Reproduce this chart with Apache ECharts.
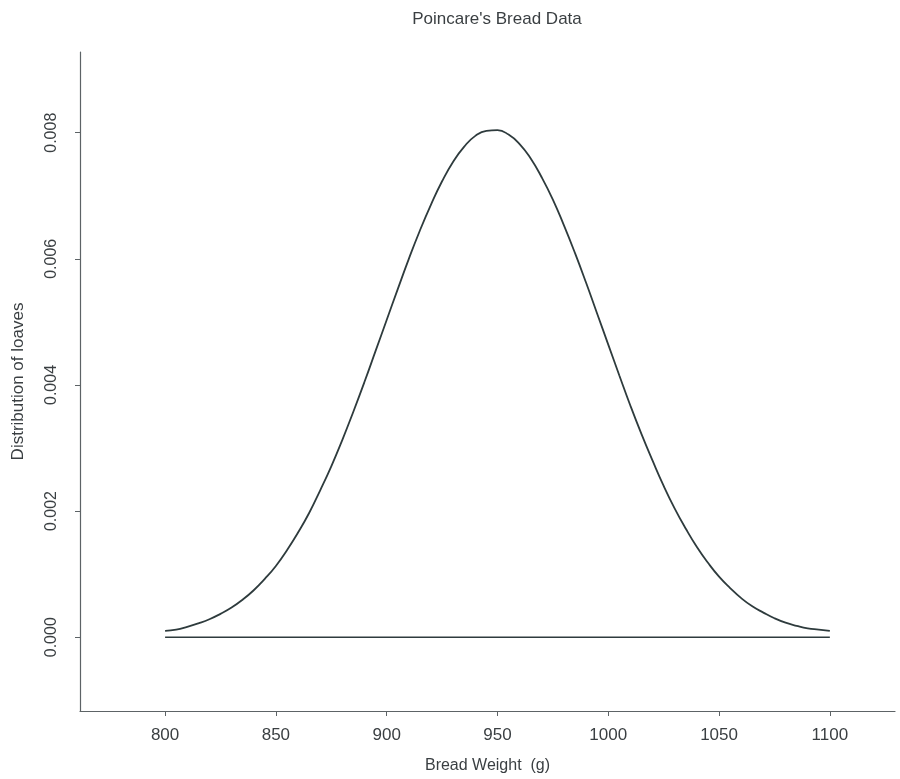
<!DOCTYPE html>
<html>
<head>
<meta charset="utf-8">
<script src="https://cdn.jsdelivr.net/npm/echarts@6/dist/echarts.min.js"></script>
<style>
  html, body { margin: 0; padding: 0; background: #fff; }
  #chart { width: 900px; height: 779px; }
</style>
</head>
<body>
<div id="chart"></div>
<script>
// weights (g) and the density, every 5 g
var weights = [800, 805, 810, 815, 820, 825, 830, 835, 840, 845,
  850, 855, 860, 865, 870, 875, 880, 885, 890, 895,
  900, 905, 910, 915, 920, 925, 930, 935, 940, 945,
  950, 955, 960, 965, 970, 975, 980, 985, 990, 995,
  1000, 1005, 1010, 1015, 1020, 1025, 1030, 1035, 1040, 1045,
  1050, 1055, 1060, 1065, 1070, 1075, 1080, 1085, 1090, 1095, 1100];
var density = [0.0001, 0.00012, 0.000165, 0.00022, 0.000285, 0.00037, 0.00047, 0.000595, 0.000745, 0.000925,
  0.00113, 0.00138, 0.00166, 0.00197, 0.00233, 0.00271, 0.00313, 0.00358, 0.00405, 0.00454,
  0.00503, 0.00552, 0.006, 0.00645, 0.00686, 0.00723, 0.00754, 0.00778, 0.00795, 0.00803,
  0.00804, 0.00797, 0.00782, 0.00759, 0.00729, 0.00694, 0.00653, 0.00609, 0.00562, 0.00513,
  0.00464, 0.00415, 0.00367, 0.00322, 0.0028, 0.0024, 0.00204, 0.00172, 0.00143, 0.00118,
  0.00096, 0.00078, 0.00062, 0.00049, 0.00039, 0.0003, 0.00023, 0.00018, 0.00014, 0.00012, 0.0001];
// baseline drawn under the curve
var baseX = [800, 1100];
var baseY = [0, 0];
var xTicks = [800, 850, 900, 950, 1000, 1050, 1100];
var yTicks = [0, 0.002, 0.004, 0.006, 0.008];

var myChart = echarts.init(document.getElementById("chart"));
var textColor = "#3a3f42";
var axisColor = "#5d6366";
var font = "Liberation Sans";

myChart.setOption({
  backgroundColor: "#ffffff",
  animation: false,
  title: {
    text: "Poincare's Bread Data",
    left: 492,
    textAlign: "center",
    top: 6,
    textStyle: {
      color: textColor,
      fontFamily: font,
      fontWeight: "normal",
      fontSize: 17
    }
  },
  grid: {
    left: 80,
    right: 5,
    top: 52,
    bottom: 66
  },
  xAxis: {
    type: "value",
    min: 761.6,
    max: 1129.4,
    name: "Bread Weight  (g)",
    nameLocation: "middle",
    nameGap: 47,
    nameTextStyle: {
      color: textColor,
      fontFamily: font,
      fontSize: 16
    },
    splitLine: { show: false },
    axisLine: {
      onZero: false,
      lineStyle: { color: axisColor, width: 1.2 }
    },
    axisTick: {
      customValues: xTicks,
      length: 5,
      lineStyle: { color: axisColor }
    },
    axisLabel: {
      customValues: xTicks,
      margin: 16,
      color: textColor,
      fontFamily: font,
      fontSize: 17,
      formatter: function (v) { return String(v); }
    }
  },
  yAxis: {
    type: "value",
    min: -0.00117,
    max: 0.00928,
    name: "Distribution of loaves",
    nameLocation: "middle",
    nameGap: 53,
    nameTextStyle: {
      color: textColor,
      fontFamily: font,
      fontSize: 17
    },
    splitLine: { show: false },
    axisLine: {
      show: true,
      lineStyle: { color: axisColor, width: 1.2 }
    },
    axisTick: {
      show: true,
      customValues: yTicks,
      length: 5,
      lineStyle: { color: axisColor }
    },
    axisLabel: {
      customValues: yTicks,
      rotate: 90,
      margin: 20,
      color: textColor,
      fontFamily: font,
      fontSize: 16,
      formatter: function (v) { return v.toFixed(3); }
    }
  },
  series: [
    {
      name: "density",
      type: "line",
      smooth: true,
      showSymbol: false,
      lineStyle: { color: "#2e3b3d", width: 1.8 },
      data: weights.map(function (w, i) { return [w, density[i]]; })
    },
    {
      name: "baseline",
      type: "line",
      showSymbol: false,
      lineStyle: { color: "#2e3b3d", width: 1.6 },
      data: baseX.map(function (w, i) { return [w, baseY[i]]; })
    }
  ]
});
</script>
</body>
</html>
